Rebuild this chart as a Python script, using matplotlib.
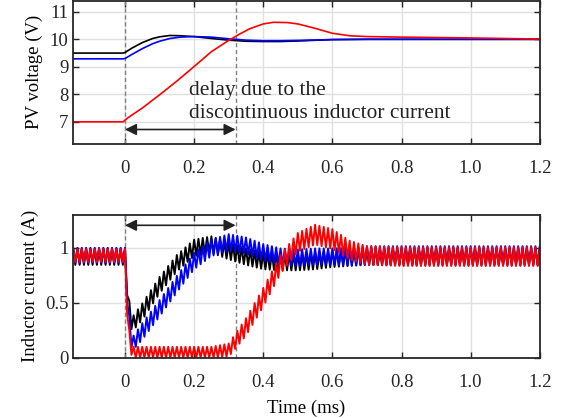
#!/usr/bin/env python3
"""PV voltage and inductor current step response, three operating points."""

import matplotlib
matplotlib.use("Agg")
import matplotlib.pyplot as plt
import numpy as np

# --- PV voltage traces (ms, V) ---
T_V = [-0.15, -0.005, 0.0, 0.02, 0.05, 0.08, 0.10, 0.13, 0.16, 0.20, 0.25,
       0.30, 0.35, 0.40, 0.45, 0.50, 0.60, 0.70, 0.80, 1.00, 1.20]
V_BLACK = [9.50, 9.50, 9.52, 9.68, 9.88, 10.03, 10.09, 10.14, 10.13, 10.10, 10.03,
           9.97, 9.93, 9.92, 9.92, 9.94, 9.99, 10.00, 10.00, 10.00, 10.00]
V_BLUE = [9.29, 9.29, 9.30, 9.45, 9.66, 9.84, 9.93, 10.03, 10.08, 10.10, 10.08,
          10.02, 9.97, 9.95, 9.95, 9.96, 9.99, 10.00, 10.00, 10.00, 10.00]
T_VR = [-0.15, -0.005, 0.0, 0.01, 0.05, 0.10, 0.15, 0.20, 0.25, 0.30, 0.33,
        0.36, 0.40, 0.43, 0.47, 0.50, 0.55, 0.60, 0.65, 0.70, 0.80, 1.00, 1.20]
V_RED = [7.00, 7.00, 7.06, 7.16, 7.50, 7.98, 8.48, 9.01, 9.55, 9.96, 10.18,
         10.38, 10.56, 10.62, 10.61, 10.56, 10.40, 10.22, 10.13, 10.10, 10.08, 10.05, 10.01]

# --- inductor current: cycle-average and peak-to-peak ripple (ms, A) ---
SWITCH_PERIOD = 0.0125
T_I = [-0.15, 0.0, 0.008, 0.02, 0.05, 0.10, 0.15, 0.20, 0.25, 0.30, 0.35,
       0.40, 0.45, 0.50, 0.55, 0.60, 0.65, 0.70, 0.80, 1.00, 1.20]
I_BLACK = [0.92, 0.92, 0.55, 0.30, 0.42, 0.66, 0.86, 1.00, 1.03, 0.97, 0.92,
           0.88, 0.87, 0.87, 0.88, 0.90, 0.91, 0.92, 0.92, 0.92, 0.92]
R_BLACK = [0.15, 0.15, 0.12, 0.13, 0.15, 0.15, 0.15, 0.15, 0.15, 0.15, 0.15,
           0.15, 0.15, 0.15, 0.15, 0.15, 0.15, 0.15, 0.15, 0.15, 0.15]
I_BLUE = [0.93, 0.93, 0.45, 0.12, 0.24, 0.45, 0.67, 0.88, 1.00, 1.05, 1.02,
          0.96, 0.92, 0.91, 0.92, 0.92, 0.92, 0.93, 0.93, 0.93, 0.93]
R_BLUE = [0.14, 0.14, 0.10, 0.12, 0.15, 0.15, 0.15, 0.15, 0.15, 0.15, 0.15,
          0.15, 0.15, 0.15, 0.15, 0.15, 0.16, 0.17, 0.17, 0.17, 0.17]
I_RED = [0.93, 0.93, 0.30, 0.05, 0.05, 0.05, 0.05, 0.05, 0.05, 0.07, 0.28,
         0.55, 0.85, 1.05, 1.12, 1.08, 0.98, 0.93, 0.92, 0.92, 0.92]
R_RED = [0.12, 0.12, 0.08, 0.10, 0.10, 0.10, 0.10, 0.10, 0.10, 0.12, 0.16,
         0.17, 0.17, 0.17, 0.18, 0.18, 0.17, 0.17, 0.17, 0.17, 0.17]

X_TICKS = [0, 0.2, 0.4, 0.6, 0.8, 1.0, 1.2]
X_TICK_LABELS = ["0", "0.2", "0.4", "0.6", "0.8", "1.0", "1.2"]
V_TICKS = [7, 8, 9, 10, 11]
I_TICKS = [0, 0.5, 1]
I_TICK_LABELS = ["0", "0.5", "1"]
DELAY_END = 0.32

plt.rcParams["font.family"] = ["Liberation Serif", "DejaVu Serif"]
plt.rcParams["font.size"] = 13.5


def ripple(t_key, mean, pp):
    """Triangle ripple around the cycle-average current."""
    t = np.arange(-0.15, 1.2 + 1e-9, SWITCH_PERIOD / 2)
    centre = np.interp(t, t_key, mean)
    amp = np.interp(t, t_key, pp) / 2
    sign = np.where(np.arange(len(t)) % 2 == 0, 1.0, -1.0)
    return t, centre + sign * amp


def style_axes(ax):
    ax.set_xlim(-0.15, 1.2)
    ax.set_xticks(X_TICKS)
    ax.set_xticklabels(X_TICK_LABELS)
    ax.grid(True, color="#e0e0e0", linewidth=1.0)
    ax.set_axisbelow(True)
    ax.tick_params(direction="in", top=True, right=True, length=4,
                   width=1.0, colors="#262626", labelcolor="#262626")
    ax.tick_params(axis="x", pad=12)
    ax.tick_params(axis="y", pad=3.5)
    for s in ax.spines.values():
        s.set_color("#262626")
        s.set_linewidth(1.3)
    for x in (0, DELAY_END):
        ax.axvline(x, color="#808080", linestyle=(0, (3, 2)), linewidth=1.0, zorder=1.5)


def delay_arrow(ax, y):
    ax.annotate("", xy=(DELAY_END, y), xytext=(0, y),
                arrowprops=dict(arrowstyle="<|-|>", color="#222222", lw=1.2,
                                mutation_scale=17, shrinkA=0, shrinkB=0),
                zorder=6)


def main():
    fig = plt.figure(figsize=(5.67, 4.18), dpi=100)
    ax1 = fig.add_axes([0.129, 0.656, 0.823, 0.342])
    ax2 = fig.add_axes([0.129, 0.144, 0.823, 0.342])

    ax1.plot(T_V, V_BLACK, color="black", linewidth=1.2)
    ax1.plot(T_V, V_BLUE, color="blue", linewidth=1.2)
    ax1.plot(T_VR, V_RED, color="red", linewidth=1.2)
    ax1.set_ylim(6.2, 11.4)
    ax1.set_yticks(V_TICKS)
    ax1.set_ylabel("PV voltage (V)", labelpad=4.5)
    style_axes(ax1)
    delay_arrow(ax1, 6.72)
    ax1.text(0.186, 7.97, "delay due to the", va="baseline", ha="left",
             color="#222222", fontsize=15.4)
    ax1.text(0.186, 7.14, "discontinuous inductor current", va="baseline",
             ha="left", color="#222222", fontsize=15.4)

    for mean, pp, c in ((I_BLACK, R_BLACK, "black"), (I_BLUE, R_BLUE, "blue"),
                        (I_RED, R_RED, "red")):
        t, i = ripple(T_I, mean, pp)
        ax2.plot(t, np.clip(i, 0, None), color=c, linewidth=1.4)
    ax2.set_ylim(0, 1.3)
    ax2.set_yticks(I_TICKS)
    ax2.set_yticklabels(I_TICK_LABELS)
    ax2.set_ylabel("Inductor current (A)", labelpad=4)
    ax2.set_xlabel("Time (ms)", labelpad=6)
    style_axes(ax2)
    delay_arrow(ax2, 1.205)

    fig.savefig("out.png", dpi=100)
    plt.close(fig)


if __name__ == "__main__":
    main()
